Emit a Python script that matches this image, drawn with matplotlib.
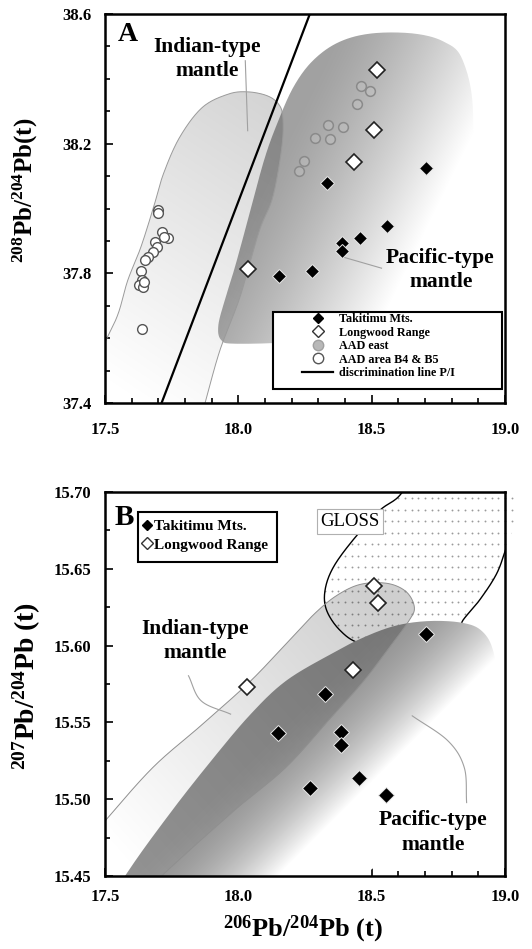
import numpy as np
import matplotlib
matplotlib.use("Agg")
import matplotlib.pyplot as plt
from matplotlib.path import Path
from matplotlib.patches import PathPatch, Rectangle
from matplotlib.lines import Line2D
from matplotlib.ticker import MultipleLocator, FormatStrFormatter

plt.rcParams['font.family'] = ['Liberation Serif', 'DejaVu Serif']
plt.rcParams['font.weight'] = 'bold'
plt.rcParams['mathtext.fontset'] = 'custom'
plt.rcParams['mathtext.rm'] = 'Liberation Serif:bold'
plt.rcParams['mathtext.bf'] = 'Liberation Serif:bold'
plt.rcParams['mathtext.it'] = 'Liberation Serif:bold:italic'

# ---------------- data : panel A (208Pb/204Pb vs 206Pb/204Pb) ----------------
tak_a_x = [18.331, 18.704, 18.556, 18.455, 18.388, 18.388, 18.154, 18.275]
tak_a_y = [38.078, 38.125, 37.947, 37.909, 37.893, 37.868, 37.793, 37.807]
lw_a_x = [18.519, 18.507, 18.434, 18.035]
lw_a_y = [38.427, 38.242, 38.143, 37.812]
aade_x = [18.461, 18.494, 18.446, 18.336, 18.392, 18.288, 18.343, 18.248, 18.226]
aade_y = [38.379, 38.362, 38.323, 38.258, 38.251, 38.218, 38.215, 38.148, 38.115]
aadb_x = [17.697, 17.700, 17.715, 17.737, 17.722, 17.688, 17.694, 17.681, 17.662,
          17.650, 17.634, 17.638, 17.629, 17.644, 17.646, 17.638]
aadb_y = [37.994, 37.985, 37.928, 37.908, 37.913, 37.897, 37.882, 37.866, 37.851,
          37.841, 37.808, 37.779, 37.764, 37.758, 37.774, 37.627]
disc_x = [17.712, 18.268]
disc_y = [37.4, 38.6]

# field outlines, panel A
indA_x = [17.40, 17.50, 17.549, 17.585, 17.634, 17.682, 17.719, 17.78, 17.865, 17.962,
          18.035, 18.108, 18.151, 18.167, 18.163, 18.129, 18.078, 18.006, 17.931, 17.875,
          17.84, 17.60]
indA_y = [37.42, 37.588, 37.675, 37.778, 37.88, 38.004, 38.107, 38.22, 38.312, 38.353,
          38.36, 38.348, 38.322, 38.281, 38.189, 38.035, 37.93, 37.727, 37.563, 37.40,
          37.30, 37.30]
pacA_x = [17.99, 17.935, 17.925, 17.95, 17.987, 18.035, 18.096, 18.145, 18.206, 18.279,
          18.376, 18.498, 18.656, 18.77, 18.84, 18.88, 18.86, 18.72, 18.50, 18.23]
pacA_y = [37.583, 37.595, 37.64, 37.72, 37.819, 37.963, 38.148, 38.261, 38.374, 38.456,
          38.513, 38.540, 38.540, 38.515, 38.46, 38.30, 38.00, 37.75, 37.62, 37.590]
ptrA_ind_x = [18.026, 18.035]
ptrA_ind_y = [38.456, 38.240]
ptrA_pac_x = [18.394, 18.537]
ptrA_pac_y = [37.850, 37.816]

# ---------------- data : panel B (207Pb/204Pb vs 206Pb/204Pb) ----------------
tak_b_x = [18.704, 18.324, 18.150, 18.384, 18.384, 18.451, 18.270, 18.555]
tak_b_y = [15.6076, 15.5685, 15.543, 15.5435, 15.535, 15.5135, 15.507, 15.503]
lw_b_x = [18.509, 18.522, 18.431, 18.032]
lw_b_y = [15.639, 15.628, 15.584, 15.573]

indB_x = [17.35, 17.496, 17.679, 17.86, 18.04, 18.178, 18.287, 18.372, 18.46, 18.56,
          18.63, 18.66, 18.64, 18.567, 18.47, 18.348, 18.178, 17.983, 17.721, 17.60, 17.40]
indB_y = [15.455, 15.485, 15.5206, 15.548, 15.576, 15.601, 15.621, 15.633, 15.640, 15.6405,
          15.635, 15.625, 15.6163, 15.599, 15.577, 15.5533, 15.5207, 15.4924, 15.4515, 15.43, 15.43]
pacB_x = [17.40, 17.575, 17.74, 17.898, 18.044, 18.178, 18.348, 18.47, 18.59, 18.713,
          18.835, 18.91, 18.955, 18.975, 18.93, 18.78, 18.58, 18.33, 18.12, 17.90]
pacB_y = [15.40, 15.45, 15.49, 15.525, 15.555, 15.577, 15.5946, 15.6054, 15.613, 15.616,
          15.615, 15.61, 15.597, 15.57, 15.535, 15.50, 15.465, 15.435, 15.415, 15.40]
gloss_x = [18.70, 18.615, 18.530, 18.431, 18.356, 18.325, 18.331, 18.381, 18.456, 18.60,
           18.80, 18.844, 18.906, 18.969, 19.006, 19.05, 19.15, 19.10, 18.80]
gloss_y = [15.73, 15.700, 15.688, 15.669, 15.651, 15.636, 15.623, 15.610, 15.6015, 15.598,
           15.605, 15.617, 15.630, 15.647, 15.6644, 15.685, 15.73, 15.78, 15.78]
ptrB_ind_x = [17.813, 17.861, 17.971]
ptrB_ind_y = [15.5804, 15.564, 15.5554]
ptrB_pac_x = [18.652, 18.786, 18.847, 18.856]
ptrB_pac_y = [15.5543, 15.538, 15.5207, 15.4978]

x_ticks = [17.5, 18.0, 18.5, 19.0]
yA_ticks = [37.4, 37.8, 38.2, 38.6]
yB_ticks = [15.45, 15.50, 15.55, 15.60, 15.65, 15.70]


def catmull(xs, ys, closed=True, n=24):
    P = np.column_stack([xs, ys]).astype(float)
    if closed:
        ext = np.vstack([P[-1], P, P[0], P[1]])
    else:
        ext = np.vstack([2 * P[0] - P[1], P, 2 * P[-1] - P[-2]])
    out = []
    t = np.linspace(0, 1, n, endpoint=False)[:, None]
    for i in range(1, len(ext) - 2):
        p0, p1, p2, p3 = ext[i - 1], ext[i], ext[i + 1], ext[i + 2]
        pts = 0.5 * (2 * p1 + (-p0 + p2) * t + (2 * p0 - 5 * p1 + 4 * p2 - p3) * t ** 2
                     + (-p0 + 3 * p1 - 3 * p2 + p3) * t ** 3)
        out.append(pts)
    out.append(P[-1:] if not closed else P[:1])
    return np.vstack(out)


def shade(ax, pts, darkfunc, z, sx, sy, xlim, ylim):
    xs = np.linspace(xlim[0], xlim[1], 500)
    ys = np.linspace(ylim[0], ylim[1], 500)
    X, Y = np.meshgrid(xs, ys)
    PX = (X - xlim[0]) * sx
    PY = (ylim[1] - Y) * sy
    d = darkfunc(PX, PY)
    rgba = np.zeros(X.shape + (4,))
    rgba[..., 3] = d
    im = ax.imshow(rgba, extent=(xlim[0], xlim[1], ylim[0], ylim[1]), origin='lower',
                   aspect='auto', zorder=z, interpolation='bilinear')
    patch = PathPatch(Path(pts), transform=ax.transData, facecolor='none', edgecolor='none')
    im.set_clip_path(patch)
    return im


def lin(PX, PY, p0, n):
    n = np.array(n, float)
    n = n / np.hypot(*n)
    return (PX - p0[0]) * n[0] + (PY - p0[1]) * n[1]


def style_axes(ax, xlim, ylim, yticks, yminor, yfmt, xpad, ypad):
    ax.set_xlim(*xlim)
    ax.set_ylim(*ylim)
    ax.set_xticks(x_ticks)
    ax.set_yticks(yticks)
    ax.xaxis.set_minor_locator(MultipleLocator(0.1))
    ax.yaxis.set_minor_locator(MultipleLocator(yminor))
    ax.xaxis.set_major_formatter(FormatStrFormatter('%.1f'))
    ax.yaxis.set_major_formatter(FormatStrFormatter(yfmt))
    ax.tick_params(which='both', direction='in', top=False, right=False, width=1.2)
    ax.tick_params(which='major', length=6, labelsize=12)
    ax.tick_params(which='minor', length=3.5)
    ax.tick_params(axis='x', pad=xpad)
    ax.tick_params(axis='y', pad=ypad)
    for lab in ax.get_xticklabels() + ax.get_yticklabels():
        lab.set_fontweight('bold')
    for s in ax.spines.values():
        s.set_linewidth(1.8)
        s.set_zorder(20)


fig = plt.figure(figsize=(5.32, 9.49), dpi=100)

# =========================== Panel A ===========================
axA = fig.add_axes([0.1974, 0.5753, 0.7519, 0.4099])
xlA, ylA = (17.5, 19.0), (37.4, 38.6)
sxA, syA = 400 / 1.5, 389 / 1.2

pacA = catmull(pacA_x, pacA_y)
indA = catmull(indA_x, indA_y)

p0 = ((18.035 - 17.5) * sxA, (38.6 - 37.963) * syA)
shade(axA, pacA,
      lambda X, Y: 0.37 * (1 - np.clip(lin(X, Y, p0, (0.9, 0.44)) / 165, 0, 1) ** 1.3),
      2, sxA, syA, xlA, ylA)
p1 = (0.0, (38.6 - 37.45) * syA)
shade(axA, indA, lambda X, Y: 0.17 * np.clip(lin(X, Y, p1, (0.55, -0.83)) / 330, 0, 1),
      3, sxA, syA, xlA, ylA)
axA.plot(indA[:, 0], indA[:, 1], color='#9a9a9a', lw=0.7, zorder=4)

axA.plot(ptrA_ind_x, ptrA_ind_y, color='#a0a0a0', lw=0.8, zorder=4)
axA.plot(ptrA_pac_x, ptrA_pac_y, color='#a0a0a0', lw=0.8, zorder=4)
axA.plot(disc_x, disc_y, color='black', lw=1.6, zorder=5)

axA.plot(aade_x, aade_y, 'o', ms=7, mfc=(0.78, 0.78, 0.78, 0.35), mec='#8a8a8a', mew=1.1,
         ls='none', zorder=6)
axA.plot(aadb_x, aadb_y, 'o', ms=7, mfc='white', mec='#555555', mew=1.0, ls='none', zorder=6)
axA.plot(lw_a_x, lw_a_y, 'D', ms=8, mfc='white', mec='#222222', mew=1.2, ls='none', zorder=7)
axA.plot(tak_a_x, tak_a_y, 'D', ms=7, mfc='black', mec='#e8e8e8', mew=0.7, ls='none', zorder=7)

axA.text(17.882, 38.497, 'Indian-type', ha='center', va='center', fontsize=15.5,
         fontweight='bold', zorder=8)
axA.text(17.882, 38.425, 'mantle', ha='center', va='center', fontsize=15.5,
         fontweight='bold', zorder=8)
axA.text(18.757, 37.846, 'Pacific-type', ha='center', va='center', fontsize=15.5,
         fontweight='bold', zorder=8)
axA.text(18.762, 37.773, 'mantle', ha='center', va='center', fontsize=15.5,
         fontweight='bold', zorder=8)
axA.text(0.058, 0.948, 'A', transform=axA.transAxes, ha='center', va='center',
         fontsize=20, fontweight='bold', zorder=8)

axA.add_patch(Rectangle((0.42, 0.036), 0.5725, 0.198, transform=axA.transAxes,
                        facecolor='white', edgecolor='black', lw=1.5, zorder=9))
hA = [Line2D([], [], marker='D', ls='none', ms=5, mfc='black', mec='black'),
      Line2D([], [], marker='D', ls='none', ms=6, mfc='white', mec='#333333', mew=1.0),
      Line2D([], [], marker='o', ls='none', ms=7.5, mfc='#b8b8b8', mec='#a0a0a0'),
      Line2D([], [], marker='o', ls='none', ms=7.5, mfc='white', mec='#555555'),
      Line2D([], [], color='black', lw=1.6)]
legA = axA.legend(hA, ['Takitimu Mts.', 'Longwood Range', 'AAD east', 'AAD area B4 & B5',
                       'discrimination line P/I'],
                  loc='upper left', bbox_to_anchor=(0.4925, 0.231), frameon=False,
                  borderpad=0, borderaxespad=0, handlelength=2.6, handletextpad=0.5,
                  labelspacing=0.12, prop={'family': 'Liberation Serif', 'weight': 'bold',
                                           'size': 8.7})
legA.set_zorder(10)

style_axes(axA, xlA, ylA, yA_ticks, 0.1, '%.1f', 14, 10)
fig.text(0.047, 0.799, r'$^{208}$Pb/$^{204}$Pb(t)', rotation=90, ha='center', va='center',
         fontsize=18, fontweight='bold')

# =========================== Panel B ===========================
axB = fig.add_axes([0.1974, 0.0769, 0.7519, 0.4046])
xlB, ylB = (17.5, 19.0), (15.45, 15.70)
sxB, syB = 400 / 1.5, 384 / 0.25

glo = catmull(gloss_x, gloss_y)
gpatch = PathPatch(Path(glo), transform=axB.transData, facecolor='none', edgecolor='none')
gx, gy = np.meshgrid(np.arange(18.30, 19.05, 0.025), np.arange(15.6959, 15.59, -0.0075))
dots = axB.scatter(gx.ravel(), gy.ravel(), s=1.8, color='#9a9a9a', lw=0, zorder=1)
dots.set_clip_path(gpatch)
axB.plot(glo[:, 0], glo[:, 1], color='black', lw=1.0, zorder=1.5)

pacB = catmull(pacB_x, pacB_y)
axB.add_patch(PathPatch(Path(pacB), facecolor='white', edgecolor='none', zorder=2))
p2 = ((17.905 - 17.5) * sxB, (15.70 - 15.5255) * syB)
shade(axB, pacB,
      lambda X, Y: 0.43 * (1 - np.clip((lin(X, Y, p2, (0.707, 0.707)) - 20) / 108, 0, 1) ** 2),
      2.5, sxB, syB, xlB, ylB)
indB = catmull(indB_x, indB_y)
p3 = (0.0, (15.70 - 15.47) * syB)
shade(axB, indB, lambda X, Y: 0.19 * np.clip(lin(X, Y, p3, (0.75, -0.66)) / 360, 0, 1),
      3, sxB, syB, xlB, ylB)
axB.plot(indB[:, 0], indB[:, 1], color='#8f8f8f', lw=0.7, zorder=4)

pi = catmull(ptrB_ind_x, ptrB_ind_y, closed=False)
pp = catmull(ptrB_pac_x, ptrB_pac_y, closed=False)
axB.plot(pi[:, 0], pi[:, 1], color='#a0a0a0', lw=0.8, zorder=4)
axB.plot(pp[:, 0], pp[:, 1], color='#a0a0a0', lw=0.8, zorder=4)

axB.plot(lw_b_x, lw_b_y, 'D', ms=8.5, mfc='white', mec='#222222', mew=1.2, ls='none', zorder=7)
axB.plot(tak_b_x, tak_b_y, 'D', ms=8.5, mfc='black', mec='#e8e8e8', mew=0.7, ls='none', zorder=7)

axB.text(18.419, 15.6807, 'GLOSS', ha='center', va='center', fontsize=13.5,
         fontweight='normal', zorder=8,
         bbox=dict(boxstyle='square,pad=0.2', facecolor='white', edgecolor='#b0b0b0', lw=0.8))
axB.text(17.837, 15.611, 'Indian-type', ha='center', va='center', fontsize=15.5,
         fontweight='bold', zorder=8)
axB.text(17.837, 15.5955, 'mantle', ha='center', va='center', fontsize=15.5,
         fontweight='bold', zorder=8)
axB.text(18.731, 15.4865, 'Pacific-type', ha='center', va='center', fontsize=15.5,
         fontweight='bold', zorder=8)
axB.text(18.731, 15.4705, 'mantle', ha='center', va='center', fontsize=15.5,
         fontweight='bold', zorder=8)
axB.text(0.047, 0.933, 'B', transform=axB.transAxes, ha='center', va='center',
         fontsize=21, fontweight='bold', zorder=8)

axB.add_patch(Rectangle((0.0825, 0.818), 0.3475, 0.13, transform=axB.transAxes,
                        facecolor='white', edgecolor='black', lw=1.5, zorder=9))
hB = [Line2D([], [], marker='D', ls='none', ms=5, mfc='black', mec='black'),
      Line2D([], [], marker='D', ls='none', ms=6.5, mfc='white', mec='#333333', mew=1.0)]
legB = axB.legend(hB, ['Takitimu Mts.', 'Longwood Range'], loc='upper left',
                  bbox_to_anchor=(0.093, 0.928), frameon=False, borderpad=0, borderaxespad=0,
                  handlelength=0.6, handletextpad=0.2, labelspacing=0.3,
                  prop={'family': 'Liberation Serif', 'weight': 'bold', 'size': 11})
legB.set_zorder(10)

style_axes(axB, xlB, ylB, yB_ticks, 0.025, '%.2f', 9.5, 10)
fig.text(0.05, 0.277, r'$^{207}$Pb/$^{204}$Pb (t)', rotation=90, ha='center', va='center',
         fontsize=20, fontweight='bold')
fig.text(0.57, 0.021, r'$^{206}$Pb/$^{204}$Pb (t)', ha='center', va='center',
         fontsize=19, fontweight='bold')

fig.savefig('out.png', dpi=100)
